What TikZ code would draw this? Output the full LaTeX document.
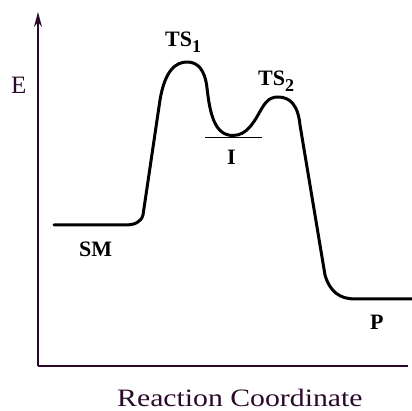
\documentclass[tikz,border=0pt]{standalone}
\usepackage{fontspec}
\setmainfont{Liberation Serif}
\usetikzlibrary{arrows.meta}
\definecolor{axiscol}{HTML}{2A0A2A}
\tikzset{
  axisline/.style={draw=axiscol, line width=1.3pt},
  curveline/.style={draw=black, line width=3pt, line cap=round, line join=round},
  statelabel/.style={font=\fontsize{22}{22}\selectfont\bfseries, inner sep=0pt, anchor=base west},
  axislabel/.style={text=axiscol, inner sep=0pt, anchor=base west}
}
\newcommand{\tslabel}[1]{TS\raisebox{-6pt}{\fontsize{18}{18}\selectfont #1}}
\begin{document}
\begin{tikzpicture}[x=1pt,y=-1pt]
\useasboundingbox (0,0) rectangle (412,411);
% axes
\coordinate (origin) at (38,366);
\coordinate (ytop) at (38,12);
\coordinate (xend) at (408,366);
\draw[axisline, -{Stealth[length=15pt,width=8pt]}] (origin) -- (ytop);
\draw[axisline] (origin) -- (xend);
% intermediate level
\coordinate (il) at (205,137.5);
\coordinate (ir) at (262,137.5);
\draw[draw=black, line width=1.2pt] (il) -- (ir);
% energy curve
\draw[curveline] (54,225) -- (125,225)
  .. controls (135,225) and (141,222) .. (143,215)
  -- (160,100)
  .. controls (165,70) and (176,62) .. (187,62)
  .. controls (198,62) and (205,70) .. (207,88)
  .. controls (210,115) and (215,135.5) .. (233,135.5)
  .. controls (248,135.5) and (255,120) .. (262,108)
  .. controls (268,98) and (273,97) .. (278,97)
  .. controls (290,97) and (298,105) .. (300,125)
  -- (325,275)
  .. controls (330,292) and (340,299) .. (355,299)
  -- (412,299);
% labels
\node[statelabel] (ts1) at (165,47) {\tslabel{1}};
\node[statelabel] (ts2) at (258,86) {\tslabel{2}};
\node[statelabel] (int) at (227,165) {I};
\node[statelabel] (sm) at (79,257) {SM};
\node[statelabel] (p) at (370,330) {P};
\node[axislabel, font=\fontsize{25}{25}\selectfont] (e) at (11,94) {E};
\node[axislabel, font=\fontsize{25}{25}\selectfont] (rc) at (117,406) {\scalebox{1.19}[1]{Reaction Coordinate}};
\end{tikzpicture}
\end{document}
